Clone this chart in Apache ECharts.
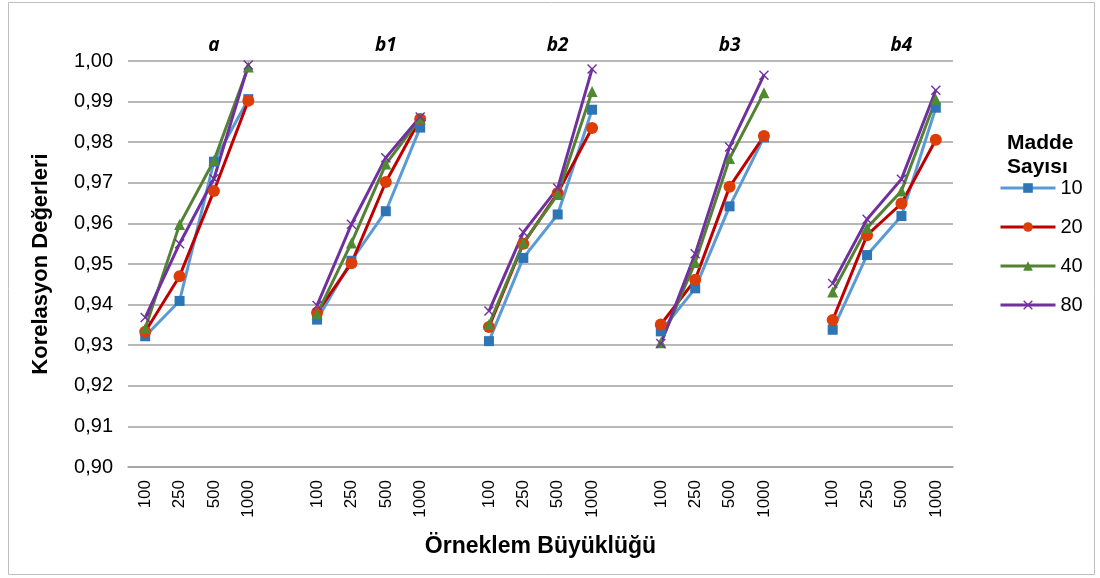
<!DOCTYPE html>
<html>
<head>
<meta charset="utf-8">
<script src="https://cdn.jsdelivr.net/npm/echarts@6/dist/echarts.min.js"></script>
<style>
  html, body { margin: 0; padding: 0; background: #fff; }
  #chart { width: 1100px; height: 578px; }
</style>
</head>
<body>
<div id="chart"></div>
<script>
// groups of the chart and sample sizes inside each group
const groups = ['a', 'b1', 'b2', 'b3', 'b4']
const sizes = ['100', '250', '500', '1000']
const seriesNames = ['10', '20', '40', '80']

// correlation values per group (100, 250, 500, 1000)
const madde10 = [
  0.9322, 0.9409, 0.9752, 0.9906,
  0.9363, 0.9508, 0.9630, 0.9836,
  0.9310, 0.9515, 0.9622, 0.9880,
  0.9334, 0.9440, 0.9642, 0.9812,
  0.9338, 0.9522, 0.9618, 0.9885
]
const madde20 = [
  0.9333, 0.9470, 0.9680, 0.9902,
  0.9380, 0.9502, 0.9702, 0.9857,
  0.9345, 0.9550, 0.9675, 0.9835,
  0.9351, 0.9461, 0.9690, 0.9815,
  0.9362, 0.9571, 0.9649, 0.9806
]
const madde40 = [
  0.9341, 0.9597, 0.9755, 0.9985,
  0.9377, 0.9552, 0.9746, 0.9858,
  0.9351, 0.9552, 0.9671, 0.9925,
  0.9306, 0.9504, 0.9760, 0.9922,
  0.9431, 0.9589, 0.9680, 0.9906
]
const madde80 = [
  0.9368, 0.9550, 0.9710, 0.9990,
  0.9398, 0.9598, 0.9762, 0.9862,
  0.9384, 0.9578, 0.9687, 0.9980,
  0.9304, 0.9525, 0.9788, 0.9965,
  0.9452, 0.9610, 0.9709, 0.9928
]

// category list with an empty slot between groups
const categories = []
const topLabels = []
groups.forEach((g, gi) => {
  if (gi > 0) { categories.push(''); topLabels.push('') }
  sizes.forEach((s, si) => { categories.push(s); topLabels.push(si === 2 ? g : '') })
})
const withGaps = vals => {
  const out = []
  vals.forEach((v, i) => {
    if (i > 0 && i % 4 === 0) out.push('-')
    out.push(v)
  })
  return out
}

const xMark = 'path://M0,1L1,0L5,4L9,0L10,1L6,5L10,9L9,10L5,6L1,10L0,9L4,5Z'
const styles = [
  { line: '#5b9bd5', mark: '#2e75b6', symbol: 'rect', size: 10 },
  { line: '#c00000', mark: '#dd3d06', symbol: 'circle', size: 12 },
  { line: '#548235', mark: '#4f8a33', symbol: 'triangle', size: 11 },
  { line: '#7030a0', mark: '#7030a0', symbol: xMark, size: 10 }
]
const values = [madde10, madde20, madde40, madde80]

const chart = echarts.init(document.getElementById('chart'))
chart.setOption({
  backgroundColor: '#fff',
  animation: false,
  textStyle: { fontFamily: 'Liberation Sans, Arial, sans-serif' },
  graphic: [{
    type: 'rect',
    shape: { x: 8.5, y: 2.5, width: 1086, height: 572 },
    style: { fill: 'none', stroke: '#bfbfbf', lineWidth: 1 }
  }],
  title: {
    text: 'Madde\nSayısı', left: 1002, top: 126,
    textStyle: { fontSize: 21, fontWeight: 'bold', color: '#000', lineHeight: 24 }
  },
  legend: {
    orient: 'vertical', left: 994, top: 173, itemWidth: 55, itemHeight: 12, itemGap: 19,
    textStyle: { fontSize: 20, color: '#000' },
    lineStyle: { width: 3 },
    data: seriesNames
  },
  grid: { left: 128, right: 147, top: 61, bottom: 111 },
  xAxis: [{
    type: 'category', data: categories, boundaryGap: true,
    name: 'Örneklem Büyüklüğü', nameLocation: 'middle', nameGap: 68,
    nameTextStyle: { fontSize: 23, fontWeight: 'bold', color: '#000' },
    axisLine: { lineStyle: { color: '#a0a0a0', width: 1.5 } },
    axisTick: { show: false },
    axisLabel: { interval: 0, rotate: 90, fontSize: 17, color: '#000', margin: 13 }
  }, {
    type: 'category', data: topLabels, position: 'top', boundaryGap: true,
    axisLine: { show: false }, axisTick: { show: false },
    axisLabel: {
      interval: 0, margin: 6, fontSize: 19, fontStyle: 'italic', fontWeight: 'bold',
      color: '#000', fontFamily: 'Open Sans, sans-serif'
    }
  }],
  yAxis: {
    type: 'value', min: 0.90, max: 1.00, interval: 0.01,
    name: 'Korelasyon Değerleri', nameLocation: 'middle', nameGap: 76,
    nameTextStyle: { fontSize: 22, fontWeight: 'bold', color: '#000' },
    axisLine: { show: false },
    axisTick: { show: false },
    axisLabel: { fontSize: 20, color: '#000', margin: 15, formatter: v => v.toFixed(2).replace('.', ',') },
    splitLine: { lineStyle: { color: '#a0a0a0', width: 1.5 } }
  },
  series: seriesNames.map((name, i) => ({
    name, type: 'line', data: withGaps(values[i]), connectNulls: false,
    symbol: styles[i].symbol, symbolSize: styles[i].size, showAllSymbol: true,
    lineStyle: { color: styles[i].line, width: 3 },
    itemStyle: { color: styles[i].mark, borderWidth: 0 }
  }))
})
</script>
</body>
</html>
